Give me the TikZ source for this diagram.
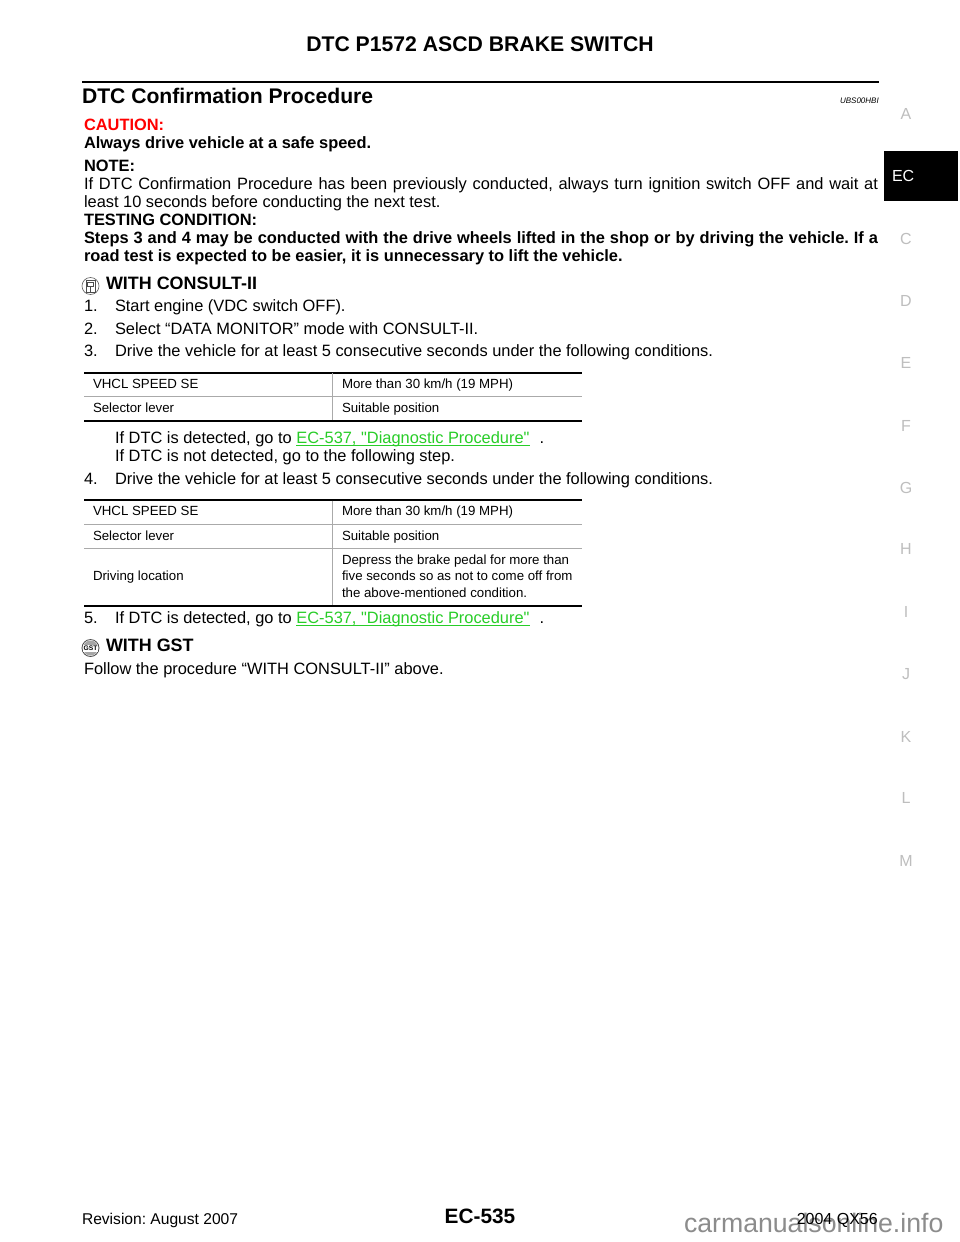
\documentclass[tikz,border=0pt]{standalone}
\usepackage{fontspec}
\setmainfont{Liberation Sans}
\newfontfamily\plainq{Liberation Sans}
\frenchspacing
\definecolor{linkgreen}{RGB}{40,205,40}
\definecolor{tabgrey}{RGB}{170,170,170}
\definecolor{sidegrey}{RGB}{190,190,190}
\definecolor{markgrey}{RGB}{140,140,140}
\newcommand{\bodyf}{\fontsize{12.3pt}{14pt}\selectfont}
\newcommand{\tabf}{\fontsize{9.95pt}{12pt}\selectfont}
\newcommand{\spreadw}[2]{\makebox[#1][s]{#2}}
\newlength{\linkw}
\newcommand{\linktext}{\settowidth{\linkw}{\plainq EC-537, "Diagnostic Procedure"}\textcolor{linkgreen}{\rlap{\rule[-2pt]{\linkw}{0.6pt}}\plainq EC-537, "Diagnostic Procedure"}}
\tikzset{
  x=0.75pt,y=-0.75pt,
  txt/.style={anchor=base west,inner sep=0pt,outer sep=0pt,font=\bodyf,text=black},
  btxt/.style={txt,font=\bodyf\bfseries},
  cell/.style={txt,font=\tabf},
  side/.style={anchor=base,inner sep=0pt,font=\fontsize{12pt}{14pt}\selectfont,text=sidegrey},
  thickrule/.style={line width=1.5pt,black},
  thinrule/.style={line width=0.55pt,tabgrey},
}
\begin{document}
\begin{tikzpicture}
\useasboundingbox (0,0) rectangle (960,1242);
\fill[white] (0,0) rectangle (960,1242);
% header
\node[anchor=base,inner sep=0pt,font=\fontsize{15.9pt}{18pt}\selectfont\bfseries] (title) at (480,51) {DTC P1572 ASCD BRAKE SWITCH};
\draw[line width=1.6pt] (82,82) -- (879,82);
\node[txt,font=\fontsize{15.85pt}{18pt}\selectfont\bfseries] (h1) at (82,103) {DTC Confirmation Procedure};
\node[anchor=base east,inner sep=0pt,font=\fontsize{6pt}{7pt}\selectfont\itshape] (code) at (879,103) {UBS00HBI};
% side tabs
\foreach \l/\y in {A/119,C/244,D/306,E/368,F/431,G/493,H/554,I/617,J/679,K/742,L/803,M/866}{
  \node[side] (tab\l) at (906,\y) {\l};
}
\fill[black] (884,151) rectangle (958,201);
\node[txt,font=\fontsize{12pt}{14pt}\selectfont,text=white] (ec) at (892,181) {EC};
% text
\node[btxt,text=red] (caution) at (84,130) {CAUTION:};
\node[btxt] (always) at (84,148) {Always drive vehicle at a safe speed.};
\node[btxt] (note) at (84,171) {NOTE:};
\node[txt] (n1) at (84,189) {\spreadw{595.5pt}{If DTC Confirmation Procedure has been previously conducted, always turn ignition switch OFF and wait at}};
\node[txt] (n2) at (84,207) {least 10 seconds before conducting the next test.};
\node[btxt] (tc) at (84,225) {TESTING CONDITION:};
\node[btxt] (s1) at (84,243) {\spreadw{595.5pt}{Steps 3 and 4 may be conducted with the drive wheels lifted in the shop or by driving the vehicle. If a}};
\node[btxt] (s2) at (84,261) {road test is expected to be easier, it is unnecessary to lift the vehicle.};
% consult icon
\draw[line width=0.5pt,black!60] (90.5,286) circle[radius=8.5];
\draw[line width=0.5pt,black!70] (86,280.5) rectangle (95,292);
\draw[line width=0.5pt,black!70] (87.5,282) rectangle (93.5,286.5) (90.5,286.5) -- (90.5,292);
\node[txt,font=\fontsize{13.45pt}{15pt}\selectfont\bfseries] (wc) at (106,289) {WITH CONSULT-II};
\node[txt] (i1) at (84,311) {1.};
\node[txt] (i1t) at (115,311) {Start engine (VDC switch OFF).};
\node[txt] (i2) at (84,334) {2.};
\node[txt] (i2t) at (115,334) {Select “DATA MONITOR” mode with CONSULT-II.};
\node[txt] (i3) at (84,356) {3.};
\node[txt] (i3t) at (115,356) {Drive the vehicle for at least 5 consecutive seconds under the following conditions.};
% table 1
\draw[thickrule] (84,372.5) -- (582,372.5);
\draw[thinrule] (84,396.5) -- (582,396.5);
\draw[thickrule] (84,421) -- (582,421);
\draw[thinrule] (332.5,373) -- (332.5,420);
\node[cell] (a1) at (93,388) {VHCL SPEED SE};
\node[cell] (a2) at (342,388) {More than 30 km/h (19 MPH)};
\node[cell] (a3) at (93,412) {Selector lever};
\node[cell] (a4) at (342,412) {Suitable position};
\node[txt] (d1) at (115,443) {If DTC is detected, go to \linktext\hspace{7.5pt}.};
\node[txt] (d2) at (115,461) {If DTC is not detected, go to the following step.};
\node[txt] (i4) at (84,484) {4.};
\node[txt] (i4t) at (115,484) {Drive the vehicle for at least 5 consecutive seconds under the following conditions.};
% table 2
\draw[thickrule] (84,500) -- (582,500);
\draw[thinrule] (84,524) -- (582,524);
\draw[thinrule] (84,548.5) -- (582,548.5);
\draw[thickrule] (84,606) -- (582,606);
\draw[thinrule] (332.5,500.5) -- (332.5,605);
\node[cell] (b1) at (93,515) {VHCL SPEED SE};
\node[cell] (b2) at (342,515) {More than 30 km/h (19 MPH)};
\node[cell] (b3) at (93,540) {Selector lever};
\node[cell] (b4) at (342,540) {Suitable position};
\node[cell] (b5) at (93,580) {Driving location};
\node[cell] (b6) at (342,564) {Depress the brake pedal for more than};
\node[cell] (b7) at (342,580) {five seconds so as not to come off from};
\node[cell] (b8) at (342,597) {the above-mentioned condition.};
\node[txt] (i5) at (84,623) {5.};
\node[txt] (i5t) at (115,623) {If DTC is detected, go to \linktext\hspace{7.5pt}.};
% GST icon
\draw[line width=0.6pt,black!70] (90.5,648) circle[radius=8.5];
\fill[black!35] (90.5,648) circle[radius=7.5];
\fill[white] (83,645) rectangle (98,651.5);
\node[anchor=center,inner sep=0pt,font=\fontsize{5pt}{6pt}\selectfont\bfseries] (gst) at (90.5,648.3) {GST};
\node[txt,font=\fontsize{13.45pt}{15pt}\selectfont\bfseries] (wg) at (106,651) {WITH GST};
\node[txt] (f) at (84,674) {Follow the procedure “WITH CONSULT-II” above.};
% footer
\node[txt,font=\fontsize{20pt}{22pt}\selectfont,text=markgrey] (mark) at (684,1232) {carmanualsonline.info};
\node[txt,font=\fontsize{11.7pt}{12pt}\selectfont] (rev) at (82,1224) {Revision: August 2007};
\node[anchor=base,inner sep=0pt,font=\fontsize{15.6pt}{18pt}\selectfont\bfseries] (pg) at (480,1223) {EC-535};
\node[anchor=base east,inner sep=0pt,font=\fontsize{12pt}{14pt}\selectfont] (yr) at (878,1224) {2004 QX56};
\end{tikzpicture}
\end{document}
